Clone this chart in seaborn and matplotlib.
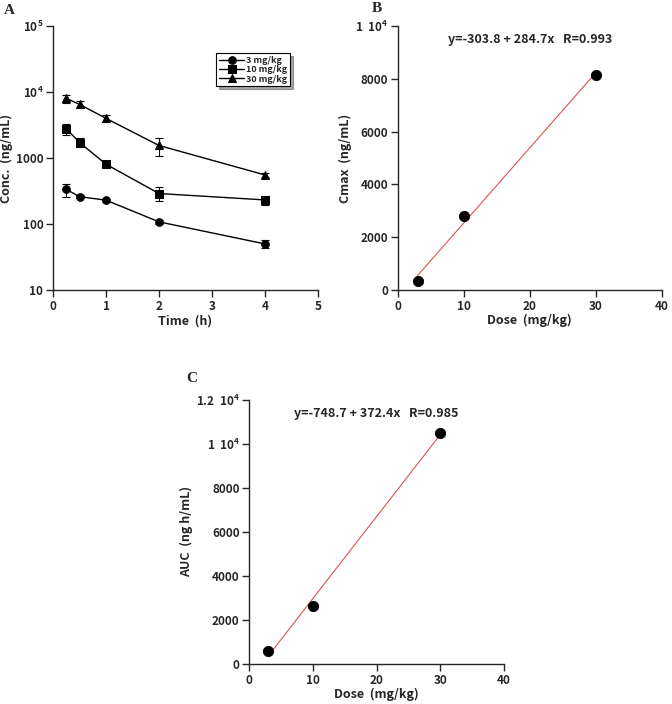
import numpy as np
import pandas as pd
import seaborn as sns
import matplotlib.pyplot as plt

# ---- data ----
times = [0.25, 0.5, 1, 2, 4]
conc_3 = [335, 260, 230, 108, 50]
err_3 = [75, 15, 12, 8, 7]
conc_10 = [2780, 1720, 805, 290, 232]
err_10 = [550, 270, 60, 70, 38]
conc_30 = [8020, 6500, 3990, 1550, 555]
err_30 = [1100, 750, 450, 480, 40]
dose_labels = ['3 mg/kg', '10 mg/kg', '30 mg/kg']

doses = [3, 10, 30]
cmax = [350, 2800, 8150]
auc = [600, 2650, 10480]
fit_cmax = (-303.8, 284.7, 0.993)
fit_auc = (-748.7, 372.4, 0.985)

sns.set_style('ticks')
plt.rcParams['font.family'] = ['Noto Sans CJK JP', 'DejaVu Sans']
plt.rcParams['font.weight'] = 'bold'
plt.rcParams['axes.labelweight'] = 'bold'
plt.rcParams['axes.linewidth'] = 1.0
plt.rcParams['xtick.major.width'] = 1.0
plt.rcParams['ytick.major.width'] = 1.0
plt.rcParams['xtick.major.size'] = 5
plt.rcParams['ytick.major.size'] = 5
plt.rcParams['mathtext.default'] = 'regular'

fig = plt.figure(figsize=(6.72, 7.04), dpi=100)
axA = fig.add_axes([0.079, 0.588, 0.394, 0.375])
axB = fig.add_axes([0.592, 0.588, 0.393, 0.375])
axC = fig.add_axes([0.371, 0.057, 0.379, 0.375])

# --- Panel A: concentration-time curves ---
df = pd.DataFrame({
    'time': times * 3,
    'conc': conc_3 + conc_10 + conc_30,
    'err': err_3 + err_10 + err_30,
    'dose': [d for d in dose_labels for _ in times],
})
sns.lineplot(data=df, x='time', y='conc', hue='dose', style='dose',
             markers=['o', 's', '^'], dashes=False, markersize=5.5,
             palette=['black'] * 3, linewidth=1.0, markeredgecolor='black',
             ax=axA)
for lab in dose_labels:
    sub = df[df['dose'] == lab]
    axA.errorbar(sub['time'], sub['conc'], yerr=sub['err'], fmt='none',
                 ecolor='black', elinewidth=0.8, capsize=3, capthick=0.8)
axA.set_yscale('log')
axA.set_ylim(10, 1e5)
axA.set_xlim(0, 5)
axA.set_xticks([0, 1, 2, 3, 4, 5])
axA.set_yticks([10, 100, 1000, 1e4, 1e5])
axA.set_yticklabels(['10', '100', '1000', '10$^4$', '10$^5$'])
axA.minorticks_off()
axA.set_xlabel('Time  (h)', fontsize=9, labelpad=1)
axA.set_ylabel('Conc.  (ng/mL)', fontsize=9, labelpad=2)
leg = axA.legend(loc='upper left', bbox_to_anchor=(0.6, 0.915), fontsize=6.5,
                 frameon=True, fancybox=False, shadow=True, edgecolor='black',
                 handlelength=2.8, handletextpad=0.2, labelspacing=0.05,
                 borderpad=0.3, title=None)
leg.get_frame().set_linewidth(0.8)

# --- Panels B and C: dose proportionality ---
def dose_panel(ax, yvals, fit, ylim, yticks, ylabels, ylabel):
    sns.scatterplot(x=doses, y=yvals, color='black', s=55, edgecolor='black',
                    zorder=3, ax=ax)
    xs = np.array([doses[0], doses[-1]])
    ax.plot(xs, fit[0] + fit[1] * xs, color='#d9534f', linewidth=0.8)
    ax.set_xlim(0, 40)
    ax.set_ylim(*ylim)
    ax.set_xticks([0, 10, 20, 30, 40])
    ax.set_yticks(yticks)
    ax.set_yticklabels(ylabels)
    ax.set_xlabel('Dose  (mg/kg)', fontsize=9, labelpad=1)
    ax.set_ylabel(ylabel, fontsize=9, labelpad=2)
    ax.text(0.5, 0.95, f'y={fit[0]} + {fit[1]}x   R={fit[2]}',
            transform=ax.transAxes, ha='center', va='center', fontsize=9)

dose_panel(axB, cmax, fit_cmax, (0, 10000),
           [0, 2000, 4000, 6000, 8000, 10000],
           ['0', '2000', '4000', '6000', '8000', '1  10$^4$'],
           'Cmax  (ng/mL)')
dose_panel(axC, auc, fit_auc, (0, 12000),
           [0, 2000, 4000, 6000, 8000, 10000, 12000],
           ['0', '2000', '4000', '6000', '8000', '1  10$^4$', '1.2  10$^4$'],
           'AUC  (ng h/mL)')

for ax in (axA, axB, axC):
    sns.despine(ax=ax)
    ax.tick_params(labelsize=8.5, pad=2)

fig.text(0.005, 0.985, 'A', family='Liberation Serif', fontweight='bold',
         fontsize=11, va='center')
fig.text(0.553, 0.988, 'B', family='Liberation Serif', fontweight='bold',
         fontsize=11, va='center')
fig.text(0.277, 0.463, 'C', family='Liberation Serif', fontweight='bold',
         fontsize=11, va='center')

fig.savefig('out.png', dpi=100)
